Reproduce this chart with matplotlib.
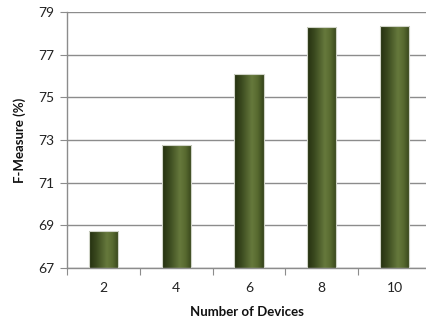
import numpy as np
import matplotlib
matplotlib.use("Agg")
import matplotlib.pyplot as plt
from matplotlib.colors import LinearSegmentedColormap

categories = ["2", "4", "6", "8", "10"]
values = [68.72, 72.75, 76.1, 78.28, 78.35]
y_ticks = [67, 69, 71, 73, 75, 77, 79]

plt.rcParams['font.family'] = ['Lato', 'DejaVu Sans']

fig = plt.figure(figsize=(4.27, 3.22), dpi=100)
W, H = 427, 322
left, right, top, bottom = 67, 431, 12, 268
ax = fig.add_axes([left / W, 1 - bottom / H, (right - left) / W, (bottom - top) / H])

ax.set_xlim(-0.5, len(categories) - 0.5)
ax.set_ylim(y_ticks[0], y_ticks[-1])
ymin = ax.get_ylim()[0]

x = np.arange(len(categories))
bw = 0.4
bars = ax.bar(x, np.array(values) - ymin, width=bw, bottom=ymin, color='none',
              edgecolor='#d0d4c8', linewidth=0.8, zorder=3)

cmap = LinearSegmentedColormap.from_list(
    'cyl', [(0.0, '#24300f'), (0.25, '#3b4a1f'), (0.6, '#66793c'),
            (0.8, '#57692f'), (1.0, '#36441b')])
grad = np.linspace(0, 1, 64).reshape(1, -1)
for b, v in zip(bars, values):
    x0 = b.get_x()
    im = ax.imshow(grad, cmap=cmap, aspect='auto',
                   extent=[x0, x0 + bw, ymin, v], zorder=2.5,
                   interpolation='bicubic')
    im.set_clip_path(b)

ax.set_xlim(-0.5, len(categories) - 0.5)
ax.set_ylim(y_ticks[0], y_ticks[-1])
ax.set_yticks(y_ticks)
ax.set_yticklabels([str(t) for t in y_ticks], fontsize=10, color='#222222')
ax.yaxis.grid(True, color='#8c8c8c', linewidth=1.0, zorder=0)
ax.set_axisbelow(True)

ax.set_xticks(np.arange(len(categories) + 1) - 0.5)
ax.set_xticklabels([])
ax.set_xticks(x, minor=True)
ax.set_xticklabels(categories, minor=True, fontsize=10, color='#222222')
ax.tick_params(axis='x', which='minor', length=0, pad=10)
ax.tick_params(axis='x', which='major', length=5, color='#8c8c8c', direction='out')
ax.tick_params(axis='y', length=5, color='#8c8c8c', direction='out', pad=4)

for s in ['top', 'right']:
    ax.spines[s].set_visible(False)
for s in ['left', 'bottom']:
    ax.spines[s].set_color('#8c8c8c')
    ax.spines[s].set_linewidth(1.0)

fig.text(20 / W, 1 - 140 / H, 'F-Measure (%)', rotation=90, fontsize=9.5,
         fontweight='bold', ha='center', va='center', color='#111111')
fig.text(247 / W, 1 - 312 / H, 'Number of Devices', fontsize=9.5,
         fontweight='bold', ha='center', va='center', color='#111111')

fig.savefig('out.png', dpi=100)
